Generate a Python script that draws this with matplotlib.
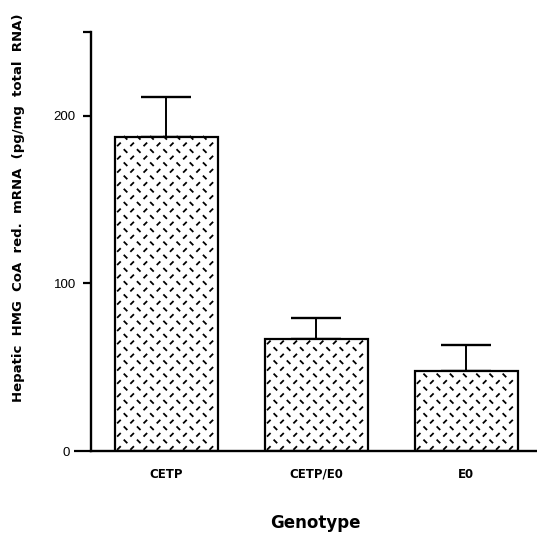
import numpy as np
import matplotlib
matplotlib.use("Agg")
import matplotlib.pyplot as plt
from matplotlib.collections import LineCollection

# values
genotypes = ["CETP", "CETP/E0", "E0"]
means = [187.3, 66.9, 47.8]
upper_err = [24.2, 12.3, 15.7]

plt.rcParams["font.family"] = ["Liberation Sans", "DejaVu Sans"]
bold_font = ["DejaVu Sans"]

fig = plt.figure(figsize=(5.37, 5.38), dpi=100)
ax = fig.add_axes([0.1695, 0.1617, 0.8305, 0.7788])

x = np.arange(len(genotypes))
width = 0.687
bars = ax.bar(x, means, width, color="white", edgecolor="black", linewidth=1.6, zorder=2)
ax.errorbar(x, means, yerr=[np.zeros(len(means)), upper_err], fmt="none",
            ecolor="black", elinewidth=1.4, capsize=18, capthick=1.7, zorder=1)

ax.set_xlim(-0.503, 2.473)
ax.set_ylim(0, 250)

# diamond-plate texture inside each bar: columns of short dashes,
# alternating "/" and "\" columns, every other column shifted half a step
fig.canvas.draw()
to_px = ax.transData
inv = to_px.inverted()
for b in bars:
    x0, y0 = b.get_x(), b.get_y()
    x1, y1 = x0 + b.get_width(), y0 + b.get_height()
    (px0, py0), (px1, py1) = to_px.transform([(x0, y0), (x1, y1)])
    segs = []
    u, half = 6.6, 1.8
    for i, xx in enumerate(np.arange(px0 + 4, px1, u)):
        s = 1 if i % 2 == 0 else -1
        for yy in np.arange(py0 + 3 + (i % 2) * u, py1, 2 * u):
            p = inv.transform([(xx - half, yy - s * half), (xx + half, yy + s * half)])
            segs.append(p)
    lc = LineCollection(segs, colors="black", linewidths=1.3, zorder=2.5)
    lc.set_clip_path(b)
    ax.add_collection(lc)

for side in ["top", "right"]:
    ax.spines[side].set_visible(False)
ax.spines["left"].set_linewidth(1.7)
ax.spines["bottom"].set_linewidth(1.7)

ax.set_yticks([100, 200, 250])
ax.set_yticklabels(["100", "200", ""], fontsize=9.5)
ax.tick_params(axis="y", which="major", length=6, width=1.6, pad=5)
# zero tick is longer: it carries the baseline out to the left
ax.set_yticks([0], minor=True)
ax.set_yticklabels(["0"], minor=True, fontsize=9.5)
ax.tick_params(axis="y", which="minor", length=12, width=1.6, pad=3)

ax.set_xticks(x)
ax.set_xticklabels(genotypes, fontsize=8.5, fontweight="bold", family=bold_font)
ax.tick_params(axis="x", length=0, pad=12)

fig.text(0.587, 0.012, "Genotype", fontsize=12, fontweight="bold", family=bold_font,
         ha="center", va="bottom")
fig.text(0.034, 0.613, "Hepatic  HMG  CoA  red.  mRNA  (pg/mg  total  RNA)",
         fontsize=9.5, fontweight="bold", family=bold_font,
         rotation=90, ha="center", va="center")

fig.savefig("out.png", dpi=100)
